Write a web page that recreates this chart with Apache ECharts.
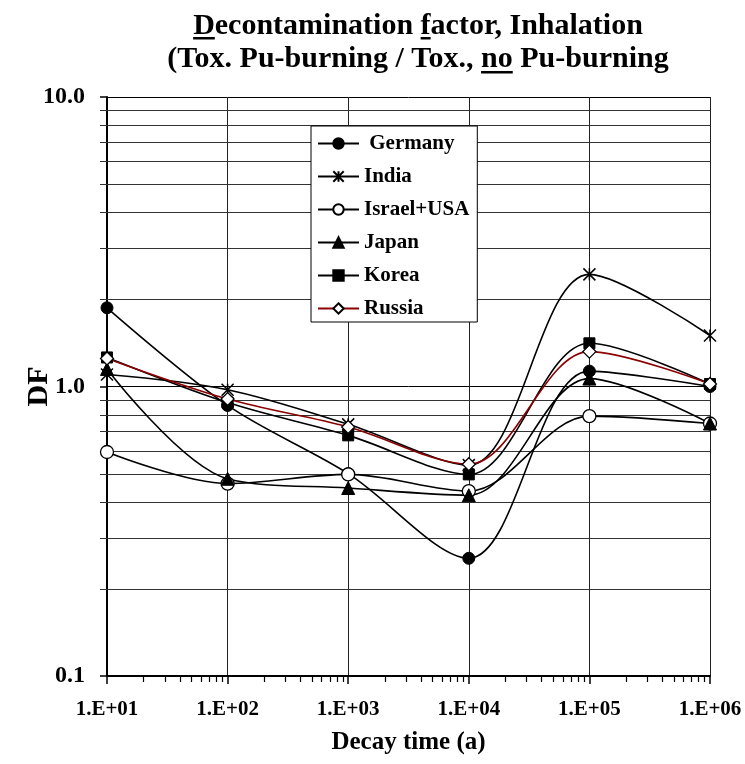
<!DOCTYPE html>
<html>
<head>
<meta charset="utf-8">
<script src="https://cdn.jsdelivr.net/npm/echarts@6/dist/echarts.min.js"></script>
<style>html,body{margin:0;padding:0;background:#fff;}#chart{width:745px;height:764px;}</style>
</head>
<body>
<div id="chart"></div>
<script>
// ---- data ----
const decayTimes = [10, 100, 1000, 10000, 100000, 1000000];
const seriesNames = ['Germany', 'India', 'Israel+USA', 'Japan', 'Korea', 'Russia'];
const germany = [1.87, 0.86, 0.50, 0.255, 1.13, 1.00];
const india   = [1.10, 0.975, 0.74, 0.535, 2.44, 1.50];
const israelUsa = [0.594, 0.462, 0.497, 0.435, 0.79, 0.745];
const japan   = [1.15, 0.48, 0.446, 0.421, 1.065, 0.745];
const korea   = [1.26, 0.88, 0.678, 0.497, 1.41, 1.02];
const russia  = [1.25, 0.905, 0.725, 0.539, 1.32, 1.02];
const xTickLabels = ['1.E+01', '1.E+02', '1.E+03', '1.E+04', '1.E+05', '1.E+06'];
const yMinorValues = [0.2,0.3,0.4,0.5,0.6,0.7,0.8,0.9,2,3,4,5,6,7,8,9];
const xMinorValues = [20,30,40,50,60,70,80,90,200,300,400,500,600,700,800,900,
  2000,3000,4000,5000,6000,7000,8000,9000,20000,30000,40000,50000,60000,70000,80000,90000,
  200000,300000,400000,500000,600000,700000,800000,900000];
const titleLine1 = 'Decontamination factor, Inhalation';
const titleLine2 = '(Tox. Pu-burning / Tox., no Pu-burning';

const FONT = '"Liberation Serif", "Times New Roman", serif';
const chart = echarts.init(document.getElementById('chart'));

function pairs(vals) { return decayTimes.map((x, i) => [x, vals[i]]); }

// measure title text for underlines
const ctx = document.createElement('canvas').getContext('2d');
ctx.font = 'bold 30px ' + FONT;
const w = s => ctx.measureText(s).width;
const titleCx = 418;
const l1x = titleCx - w(titleLine1) / 2;
const l2x = titleCx - w(titleLine2) / 2;
const base1 = 36.5, base2 = 69.5;
const ASC = 25;
const underlines = [
  [l1x, base1 + 0.5, w('D')],
  [l1x + w('Decontamination '), base1 + 0.5, w('f')],
  [l2x + w('(Tox. Pu-burning / Tox., '), base2 + 1.5, w('no')]
];

const lineBase = {
  type: 'line', smooth: 0.33, z: 3,
  lineStyle: { color: '#000', width: 1.6 },
  emphasis: { disabled: true }
};

const option = {
  animation: false,
  backgroundColor: '#fff',
  grid: { left: 107, right: 35, top: 97, bottom: 88, containLabel: false, outerBoundsMode: 'none' },
  graphic: [
    { type: 'text', x: titleCx, y: base1 - ASC, style: { text: titleLine1, font: 'bold 30px ' + FONT, fill: '#000', align: 'center', verticalAlign: 'top' } },
    { type: 'text', x: titleCx, y: base2 - ASC, style: { text: titleLine2, font: 'bold 30px ' + FONT, fill: '#000', align: 'center', verticalAlign: 'top' } }
  ].concat(underlines.map(u => ({ type: 'rect', shape: { x: u[0], y: u[1], width: u[2], height: 2.5 }, style: { fill: '#000' } }))),
  legend: {
    orient: 'vertical', left: 311, top: 126,
    data: seriesNames,
    itemWidth: 41, itemHeight: 13, itemGap: 12,
    padding: [7, 8, 3, 6],
    borderColor: '#000', borderWidth: 1, backgroundColor: '#fff',
    selectedMode: false,
    formatter: n => n === 'Germany' ? ' Germany' : n,
    textStyle: { fontFamily: FONT, fontWeight: 'bold', fontSize: 21, color: '#000', lineHeight: 20 }
  },
  xAxis: {
    type: 'log', logBase: 10, min: 10, max: 1000000, splitNumber: 5,
    name: 'Decay time (a)', nameLocation: 'middle', nameGap: 54,
    nameTextStyle: { fontFamily: FONT, fontWeight: 'bold', fontSize: 25, color: '#000' },
    axisLine: { lineStyle: { color: '#000', width: 2 } },
    axisTick: { show: true, inside: false, length: 8, lineStyle: { color: '#000', width: 1.5 } },
    axisLabel: { margin: 23, fontFamily: FONT, fontWeight: 'bold', fontSize: 21, color: '#000',
      formatter: v => xTickLabels[Math.round(Math.log10(v)) - 1] },
    splitLine: { show: true, lineStyle: { color: '#222', width: 1 } }
  },
  yAxis: {
    type: 'log', logBase: 10, min: 0.1, max: 10,
    name: 'DF', nameLocation: 'middle', nameGap: 53, nameMoveOverlap: false,
    nameTextStyle: { fontFamily: FONT, fontWeight: 'bold', fontSize: 30, color: '#000' },
    axisLine: { lineStyle: { color: '#000', width: 2 } },
    axisTick: { show: true, inside: false, length: 7, lineStyle: { color: '#000', width: 1.5 } },
    axisLabel: { margin: 22, fontFamily: FONT, fontWeight: 'bold', fontSize: 24, color: '#000',
      formatter: v => v.toFixed(1) },
    splitLine: { show: true, lineStyle: { color: '#000', width: 1 } }
  },
  series: [
    {
      type: 'custom', silent: true, z: 1, clip: false,
      data: yMinorValues.map(v => [10, v]),
      encode: { x: 0, y: 1 },
      renderItem: (params, api) => {
        const v = api.value(1);
        const p0 = api.coord([10, v]);
        const p1 = api.coord([1000000, v]);
        const y = Math.round(p0[1]) + 0.5;
        return { type: 'line', shape: { x1: p0[0] - 7, y1: y, x2: p1[0], y2: y }, style: { stroke: '#333', lineWidth: 1 } };
      }
    },
    {
      type: 'custom', silent: true, z: 1, clip: false,
      data: xMinorValues.map(v => [v, 0.1]),
      encode: { x: 0, y: 1 },
      renderItem: (params, api) => {
        const p = api.coord([api.value(0), 0.1]);
        const x = Math.round(p[0]) + 0.5;
        return { type: 'line', shape: { x1: x, y1: p[1], x2: x, y2: p[1] + 6 }, style: { stroke: '#000', lineWidth: 1.2 } };
      }
    },
    Object.assign({}, lineBase, { name: 'Germany', data: pairs(germany), symbol: 'circle', symbolSize: 12,
      itemStyle: { color: '#000', borderColor: '#000', borderWidth: 1 } }),
    Object.assign({}, lineBase, { name: 'India', data: pairs(india), symbol: 'path://M0,0L10,10M10,0L0,10M5,0L5,10', symbolSize: 12,
      itemStyle: { color: '#000', borderColor: '#000', borderWidth: 1.5 } }),
    Object.assign({}, lineBase, { name: 'Israel+USA', data: pairs(israelUsa), symbol: 'circle', symbolSize: 13,
      itemStyle: { color: '#fff', borderColor: '#000', borderWidth: 1.3 } }),
    Object.assign({}, lineBase, { name: 'Japan', data: pairs(japan), symbol: 'triangle', symbolSize: 13,
      itemStyle: { color: '#000', borderColor: '#000', borderWidth: 1 } }),
    Object.assign({}, lineBase, { name: 'Korea', data: pairs(korea), symbol: 'rect', symbolSize: 11,
      itemStyle: { color: '#000', borderColor: '#000', borderWidth: 1 } }),
    Object.assign({}, lineBase, { name: 'Russia', data: pairs(russia), symbol: 'diamond', symbolSize: 13,
      lineStyle: { color: '#8b0000', width: 1.6 },
      itemStyle: { color: '#fff', borderColor: '#000', borderWidth: 1.3 } })
  ]
};
chart.setOption(option);
</script>
</body>
</html>
